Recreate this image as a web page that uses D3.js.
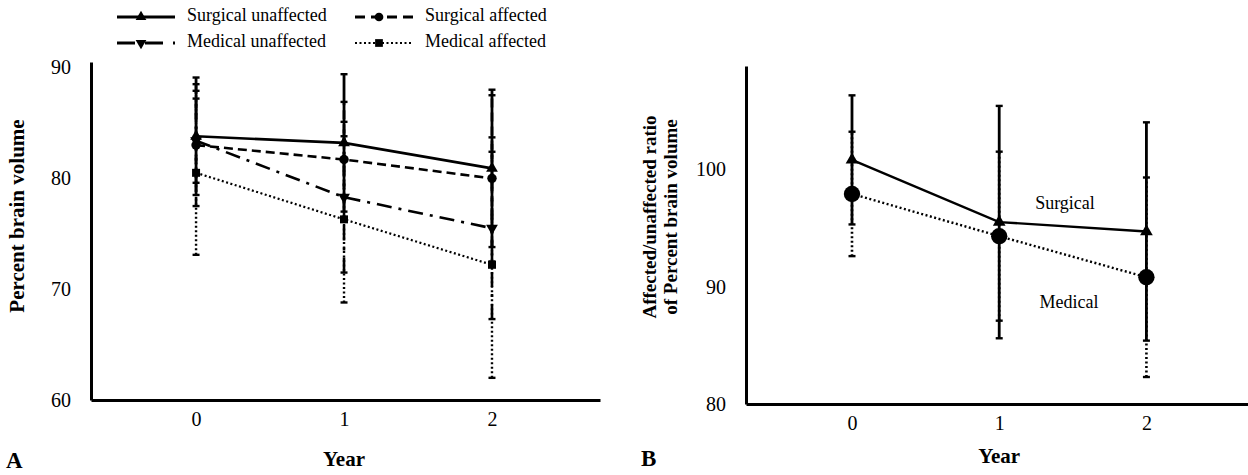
<!DOCTYPE html>
<html>
<head>
<meta charset="utf-8">
<script src="https://cdn.jsdelivr.net/npm/d3@7"></script>
<style>
  html, body { margin: 0; padding: 0; background: #fff; }
  svg { display: block; }
  text { font-family: "Liberation Serif", "Times New Roman", serif; fill: #000; }
</style>
</head>
<body>
<svg id="chart" width="1248" height="475"></svg>
<script>
// ---------------- data ----------------
const years = [0, 1, 2];
const yearTickLabels = ["0", "1", "2"];

// Panel A: percent brain volume
const surgUnaffected    = [83.8, 83.2, 80.9];
const surgUnaffectedErr = [5.3, 6.2, 7.1];
const surgAffected      = [83.0, 81.7, 80.0];
const surgAffectedErr   = [5.5, 5.2, 7.5];
const medUnaffected     = [83.4, 78.3, 75.5];
const medUnaffectedErr  = [3.8, 6.8, 8.2];
const medAffected       = [80.5, 76.3, 72.2];
const medAffectedErr    = [7.4, 7.5, 10.2];
const panelATicks = [60, 70, 80, 90];

// Panel B: affected/unaffected ratio
const surgicalRatio    = [100.8, 95.5, 94.7];
const surgicalRatioErr = [5.5, 9.9, 9.3];
const medicalRatio     = [97.9, 94.3, 90.8];
const medicalRatioErr  = [5.3, 7.2, 8.5];
const panelBTicks = [80, 90, 100];

const legendNames = ["Surgical unaffected", "Surgical affected", "Medical unaffected", "Medical affected"];

// ---------------- styles ----------------
const DASH = { solid: null, dashed: "9,5", dashdot: "15,7,3,7", dotted: "2,2.5" };

const svg = d3.select("#chart");

function symbolPath(kind, size) {
  const t = { triUp: d3.symbolTriangle, triDown: d3.symbolTriangle, circle: d3.symbolCircle, square: d3.symbolSquare }[kind];
  return d3.symbol().type(t).size(size)();
}
function drawMarker(g, kind, size, x, y) {
  g.append("path")
    .attr("d", symbolPath(kind, size))
    .attr("transform", `translate(${x},${y})` + (kind === "triDown" ? " rotate(180)" : ""))
    .attr("fill", "#000");
}

function drawAxes(g, x, y, ticks) {
  const ya = d3.axisLeft(y).tickValues(ticks).tickSize(0).tickPadding(20).tickFormat(d3.format("d"));
  const yg = g.append("g").attr("transform", `translate(${x.range()[0]},0)`).call(ya);
  const xa = d3.axisBottom(x).tickValues(years).tickSize(0).tickPadding(12).tickFormat((d, i) => yearTickLabels[i]);
  const xg = g.append("g").attr("transform", `translate(0,${y.range()[0]})`).call(xa);
  [yg, xg].forEach(a => {
    a.select(".domain").attr("stroke", "#000").attr("stroke-width", 3);
    a.selectAll("text").attr("font-size", 20).attr("font-family", "Liberation Serif");
  });
}

function drawSeries(g, x, y, s) {
  const eb = g.append("g");
  years.forEach((yr, i) => {
    const cx = x(yr);
    const lo = y(s.vals[i] - s.errs[i]), hi = y(s.vals[i] + s.errs[i]);
    eb.append("line").attr("x1", cx).attr("x2", cx).attr("y1", lo).attr("y2", hi)
      .attr("stroke", "#000").attr("stroke-width", s.ebWidth)
      .attr("stroke-dasharray", DASH[s.dash]);
    [lo, hi].forEach(yy => {
      eb.append("line").attr("x1", cx - s.cap).attr("x2", cx + s.cap).attr("y1", yy).attr("y2", yy)
        .attr("stroke", "#000").attr("stroke-width", 2.4);
    });
  });
  return eb;
}

function drawLine(g, x, y, s) {
  const line = d3.line().x((d, i) => x(years[i])).y(d => y(d));
  g.append("path").datum(s.vals).attr("d", line)
    .attr("fill", "none").attr("stroke", "#000").attr("stroke-width", s.lw)
    .attr("stroke-dasharray", DASH[s.dash]);
}
function drawMarkers(g, x, y, s) {
  s.vals.forEach((v, i) => drawMarker(g, s.marker, s.msize, x(years[i]), y(v)));
}

// ---------------- Panel A ----------------
{
  const g = svg.append("g");
  const x = d3.scaleLinear().domain([-0.71, 2.73]).range([91, 600]);
  const y = d3.scaleLinear().domain([60, 90.5]).range([400, 62]);

  const series = [
    { vals: medAffected, errs: medAffectedErr, dash: "dotted", marker: "square", msize: 64, lw: 2.2, ebWidth: 2.4, cap: 3.5 },
    { vals: medUnaffected, errs: medUnaffectedErr, dash: "dashdot", marker: "triDown", msize: 60, lw: 2.6, ebWidth: 2.6, cap: 3.5 },
    { vals: surgAffected, errs: surgAffectedErr, dash: "dashed", marker: "circle", msize: 70, lw: 2.6, ebWidth: 2.6, cap: 3.5 },
    { vals: surgUnaffected, errs: surgUnaffectedErr, dash: "solid", marker: "triUp", msize: 60, lw: 2.6, ebWidth: 2.8, cap: 3.5 }
  ];
  series.forEach(s => drawSeries(g, x, y, s));
  series.forEach(s => drawLine(g, x, y, s));
  series.forEach(s => drawMarkers(g, x, y, s));
  drawAxes(g, x, y, panelATicks);

  g.append("text").attr("transform", `translate(19,216) rotate(-90)`)
    .attr("text-anchor", "middle").attr("dominant-baseline", "middle")
    .attr("font-size", 21).attr("font-weight", "bold").text("Percent brain volume");
  g.append("text").attr("x", x(1)).attr("y", 466).attr("text-anchor", "middle")
    .attr("font-size", 21).attr("font-weight", "bold").text("Year");
  g.append("text").attr("x", 6).attr("y", 468)
    .attr("font-size", 23).attr("font-weight", "bold").text("A");

  // legend
  const leg = svg.append("g");
  const legStyles = [
    { dash: "solid", marker: "triUp", msize: 50, da: null },
    { dash: "dashed", marker: "circle", msize: 60, da: "10,6" },
    { dash: "dashdot", marker: "triDown", msize: 50, da: "18,10" },
    { dash: "dotted", marker: "square", msize: 60, da: "2,2.5" }
  ];
  const legX = [117, 355], legY = [17, 43];
  legendNames.forEach((name, i) => {
    const col = i % 2, row = Math.floor(i / 2);
    const lx = legX[col], ly = legY[row], st = legStyles[i];
    leg.append("line").attr("x1", lx).attr("x2", lx + 58).attr("y1", ly).attr("y2", ly)
      .attr("stroke", "#000").attr("stroke-width", st.dash === "dotted" ? 2 : 2.8)
      .attr("stroke-dasharray", st.da);
    drawMarker(leg, st.marker, st.msize, lx + 24, ly);
    leg.append("text").attr("x", lx + 70).attr("y", ly).attr("dominant-baseline", "middle")
      .attr("font-size", 18).text(name);
  });
}

// ---------------- Panel B ----------------
{
  const g = svg.append("g");
  const x = d3.scaleLinear().domain([-0.72, 2.69]).range([746, 1248]);
  const y = d3.scaleLinear().domain([80, 108.8]).range([404, 66]);

  const series = [
    { vals: medicalRatio, errs: medicalRatioErr, dash: "dotted", marker: "circle", msize: 210, lw: 2.4, ebWidth: 2.6, cap: 3.5 },
    { vals: surgicalRatio, errs: surgicalRatioErr, dash: "solid", marker: "triUp", msize: 70, lw: 2.4, ebWidth: 2.8, cap: 3.5 }
  ];
  series.forEach(s => drawSeries(g, x, y, s));
  series.forEach(s => drawLine(g, x, y, s));
  series.forEach(s => drawMarkers(g, x, y, s));
  drawAxes(g, x, y, panelBTicks);

  g.append("text").attr("x", 1065).attr("y", 205).attr("text-anchor", "middle").attr("dominant-baseline", "middle")
    .attr("font-size", 18).text("Surgical");
  g.append("text").attr("x", 1069).attr("y", 304).attr("text-anchor", "middle").attr("dominant-baseline", "middle")
    .attr("font-size", 18).text("Medical");

  const yl = g.append("text").attr("transform", `translate(661,217) rotate(-90)`)
    .attr("text-anchor", "middle").attr("font-size", 19).attr("font-weight", "bold");
  yl.append("tspan").attr("x", 0).attr("dy", "-0.25em").text("Affected/unaffected ratio");
  yl.append("tspan").attr("x", 0).attr("dy", "1.1em").text("of Percent brain volume");

  g.append("text").attr("x", x(1)).attr("y", 463).attr("text-anchor", "middle")
    .attr("font-size", 21).attr("font-weight", "bold").text("Year");
  g.append("text").attr("x", 641).attr("y", 466)
    .attr("font-size", 23).attr("font-weight", "bold").text("B");
}
</script>
</body>
</html>
